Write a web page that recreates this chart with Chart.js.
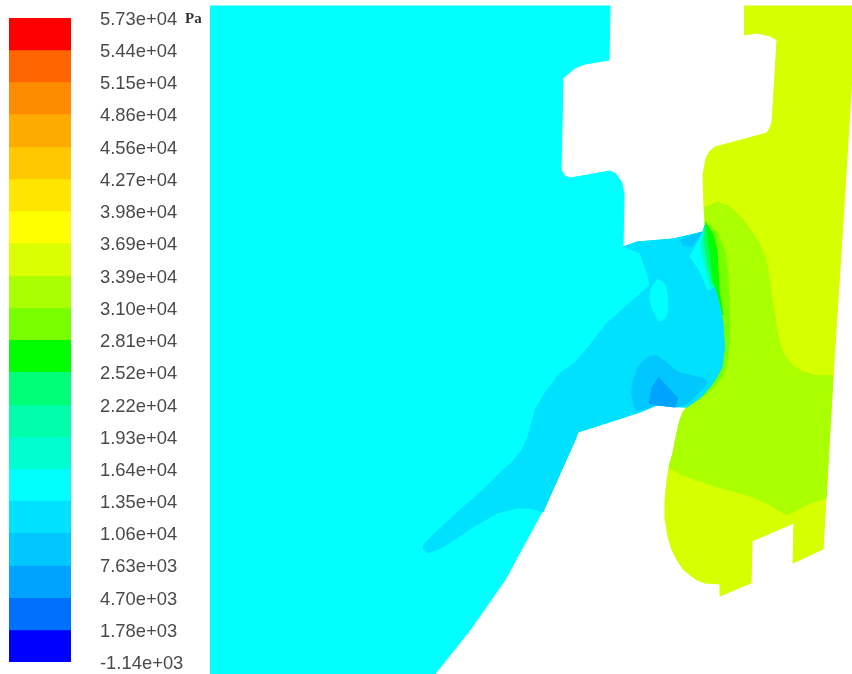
<!DOCTYPE html>
<html lang="en">
<head>
    <meta charset="UTF-8">
    <title>Static pressure contours</title>
    <style>
        html, body { margin: 0; padding: 0; background: #fff; }
        #wrap { position: relative; width: 852px; height: 674px; overflow: hidden; }
        canvas { position: absolute; left: 0; top: 0; filter: blur(0.5px); }
        #unit { position: absolute; left: 185px; top: 10px; font: bold 15px "Liberation Serif", serif; color: #333; }
    </style>
</head>
<body>
    <div id="wrap">
        <canvas id="fieldChart" width="852" height="674"></canvas>
        <canvas id="scaleChart" width="210" height="674"></canvas>
        <span id="unit">Pa</span>
    </div>
    <script src="https://cdn.jsdelivr.net/npm/chart.js"></script>
    <script>
        // colour bar
        const tickLabels = ['5.73e+04', '5.44e+04', '5.15e+04', '4.86e+04', '4.56e+04', '4.27e+04', '3.98e+04',
            '3.69e+04', '3.39e+04', '3.10e+04', '2.81e+04', '2.52e+04', '2.22e+04', '1.93e+04', '1.64e+04',
            '1.35e+04', '1.06e+04', '7.63e+03', '4.70e+03', '1.78e+03', '-1.14e+03'];
        const levels = [57300, 54400, 51500, 48600, 45600, 42700, 39800, 36900, 33900, 31000, 28100,
            25200, 22200, 19300, 16400, 13500, 10600, 7630, 4700, 1780, -1140];
        const bandColors = ['#ff0000', '#ff6600', '#ff8c00', '#ffaa00', '#ffc800', '#ffe600', '#ffff00',
            '#d9ff00', '#aaff00', '#78ff00', '#00ff00', '#00ff78', '#00ffaa', '#00ffd0', '#00ffff',
            '#00e0ff', '#00c8ff', '#00a4ff', '#0070ff', '#0000ff'];

        // contour regions, [x, y] in field units
        // the edge shared by the two sides of the bulge, top to bottom
        const bulgeEdge = [[705,225],[711,240],[715,257],[716,275],[717,290],[720,307],[723,323],[724,340],[724,352],
            [722,367],[717,377],[710,387],[703,395],[697,400],[687,407]];
        const inletDomain = [[210,6],[610,6],[609,60],[585,64],[575,68],[563,78],[561,170],[565,176],[570,178],
            [610,171],[616,174],[622,183],[624,195],[623,247],[637,242],[673,239],[703,232],...bulgeEdge,
            [683,407],[657,405],[640,412],[578,432],[575,440],[543,510],[505,580],[470,630],[435,674],[210,674]];
        const outletDomain = [[744,6],[852,6],[852,76],[845,190],[833,377],[823,549],[793,563],[794,523],[752,541],
            [751,583],[720,596],[720,584],[705,583],[697,580],[690,575],[683,569],[677,560],[672,550],[668,537],
            [665,518],[665,500],[667,480],[670,462],[673,453],[676,437],[680,420],[683,412],
            ...[...bulgeEdge].reverse(),[704,207],[703,175],[706,158],[710,151],[715,147],[767,133],[770,128],
            [772,122],[777,40],[770,36],[757,33],[744,35]];
        const outletBand1 = [[704,208],[707,207],[717,202],[730,207],[743,220],[752,232],[760,245],[765,257],[768,270],
            [771,293],[775,317],[778,337],[783,353],[792,365],[803,372],[817,376],[833,375],[826,498],[813,502],
            [800,508],[787,515],[778,510],[767,503],[753,497],[737,492],[717,487],[697,480],[683,475],[669,468],
            [673,453],[676,437],[680,420],[683,412],...[...bulgeEdge].reverse()];
        const outletBand2 = [[705,221],[718,233],[725,253],[728,277],[729,300],[729,317],[729,345],[727,362],[722,377],
            [712,389],[700,399],...[...bulgeEdge].reverse()];
        const outletCore = [[705,222],[713,234],[717,250],[718,270],[719,290],[723,315],[718,295],[713,280],[711,257],
            [708,240]];
        const nozzleBand = [[623,247],[637,242],[673,239],[703,232],...bulgeEdge,[683,407],[657,405],[640,412],
            [578,432],[575,440],[543,512],[530,508],[517,508],[497,513],[473,527],[458,537],[443,547],[428,553],
            [423,549],[424,544],[433,535],[460,510],[483,490],[500,473],[512,462],[522,450],[528,437],[531,425],
            [536,408],[547,390],[560,373],[575,363],[590,345],[607,323],[630,303],[650,285],[647,273],[640,253]];
        const lensIsland = [[657,279],[665,285],[667,313],[660,321],[654,312],[650,300],[651,288]];
        const wedgeCyan = [[703,233],[690,256],[699,270],[708,290],[716,285],[715,257],[711,240],[705,225]];
        const wedgeAqua = [[704,230],[701,245],[704,262],[711,288],[714,285],[712,257],[708,240]];
        const wedgeMint = [[705,225],[704,240],[707,260],[713,285],[714,280],[712,257],[709,240]];
        const lowerPatch = [[632,397],[632,387],[638,367],[648,357],[657,356],[667,363],[678,372],[690,375],[705,379],
            [707,383],[698,393],[688,403],[677,407],[657,405],[637,411],[633,403]];
        const upperPatch = [[680,240],[702,232],[692,246],[683,246]];
        const lowCore = [[658,377],[675,395],[678,398],[675,407],[657,405],[649,403],[652,387]];

        // painted in this order, later ones on top
        const regions = [
            { name: 'inlet', points: inletDomain, color: '#00ffff', tension: 0 },
            { name: 'outlet', points: outletDomain, color: '#d6ff00', tension: 0 },
            { name: 'outlet band 1', points: outletBand1, color: '#aaff00', tension: 0 },
            { name: 'outlet band 2', points: outletBand2, color: '#78ff00', tension: 0 },
            { name: 'nozzle', points: nozzleBand, color: '#00e0ff', tension: 0 },
            { name: 'lens', points: lensIsland, color: '#00ffff', tension: 0.4 },
            { name: 'wedge', points: wedgeCyan, color: '#00ffff', tension: 0 },
            { name: 'wedge aqua', points: wedgeAqua, color: '#00ffb0', tension: 0 },
            { name: 'wedge mint', points: wedgeMint, color: '#00ff60', tension: 0 },
            { name: 'outlet core', points: outletCore, color: '#00ff00', tension: 0 },
            { name: 'lower patch', points: lowerPatch, color: '#00c8ff', tension: 0.2 },
            { name: 'upper patch', points: upperPatch, color: '#00c8ff', tension: 0 },
            { name: 'low core', points: lowCore, color: '#00a4ff', tension: 0 }
        ];

        new Chart(document.getElementById('fieldChart'), {
            type: 'scatter',
            data: {
                datasets: regions.map((r, i) => ({
                    label: r.name,
                    data: r.points.map(p => ({ x: p[0], y: p[1] })),
                    showLine: true,
                    fill: 'shape',
                    tension: r.tension,
                    backgroundColor: r.color,
                    borderColor: r.color,
                    borderWidth: 1,
                    pointRadius: 0,
                    order: regions.length - i
                }))
            },
            options: {
                responsive: false,
                animation: false,
                layout: { padding: 0 },
                plugins: { legend: { display: false }, tooltip: { enabled: false } },
                scales: {
                    x: { type: 'linear', display: false, min: 0, max: 852 },
                    y: { type: 'linear', display: false, min: 0, max: 674, reverse: true }
                }
            }
        });

        new Chart(document.getElementById('scaleChart'), {
            type: 'bar',
            data: {
                labels: [''],
                datasets: bandColors.map((color, i) => ({
                    label: tickLabels[i],
                    data: [[levels[i + 1], levels[i]]],
                    backgroundColor: color,
                    barPercentage: 1,
                    categoryPercentage: 1
                }))
            },
            options: {
                responsive: false,
                animation: false,
                layout: { padding: { left: 9, top: 18, bottom: 12 } },
                plugins: { legend: { display: false }, tooltip: { enabled: false } },
                scales: {
                    x: { display: false, stacked: true },
                    y: {
                        position: 'right',
                        min: -1140,
                        max: 57300,
                        grid: { display: false, drawTicks: false },
                        border: { display: false },
                        afterBuildTicks(axis) { axis.ticks = levels.map(value => ({ value })); },
                        afterFit(axis) {
                            // tick padding would otherwise push the plot area in vertically
                            axis.width = 139;
                            axis.paddingTop = 0;
                            axis.paddingBottom = 0;
                        },
                        ticks: {
                            autoSkip: false,
                            padding: 29,
                            labelOffset: 2,
                            color: '#4a4a4a',
                            font: { family: '"Liberation Sans", Arial, sans-serif', size: 18.4 },
                            callback: (value, index) => tickLabels[index]
                        }
                    }
                }
            }
        });
    </script>
</body>
</html>
